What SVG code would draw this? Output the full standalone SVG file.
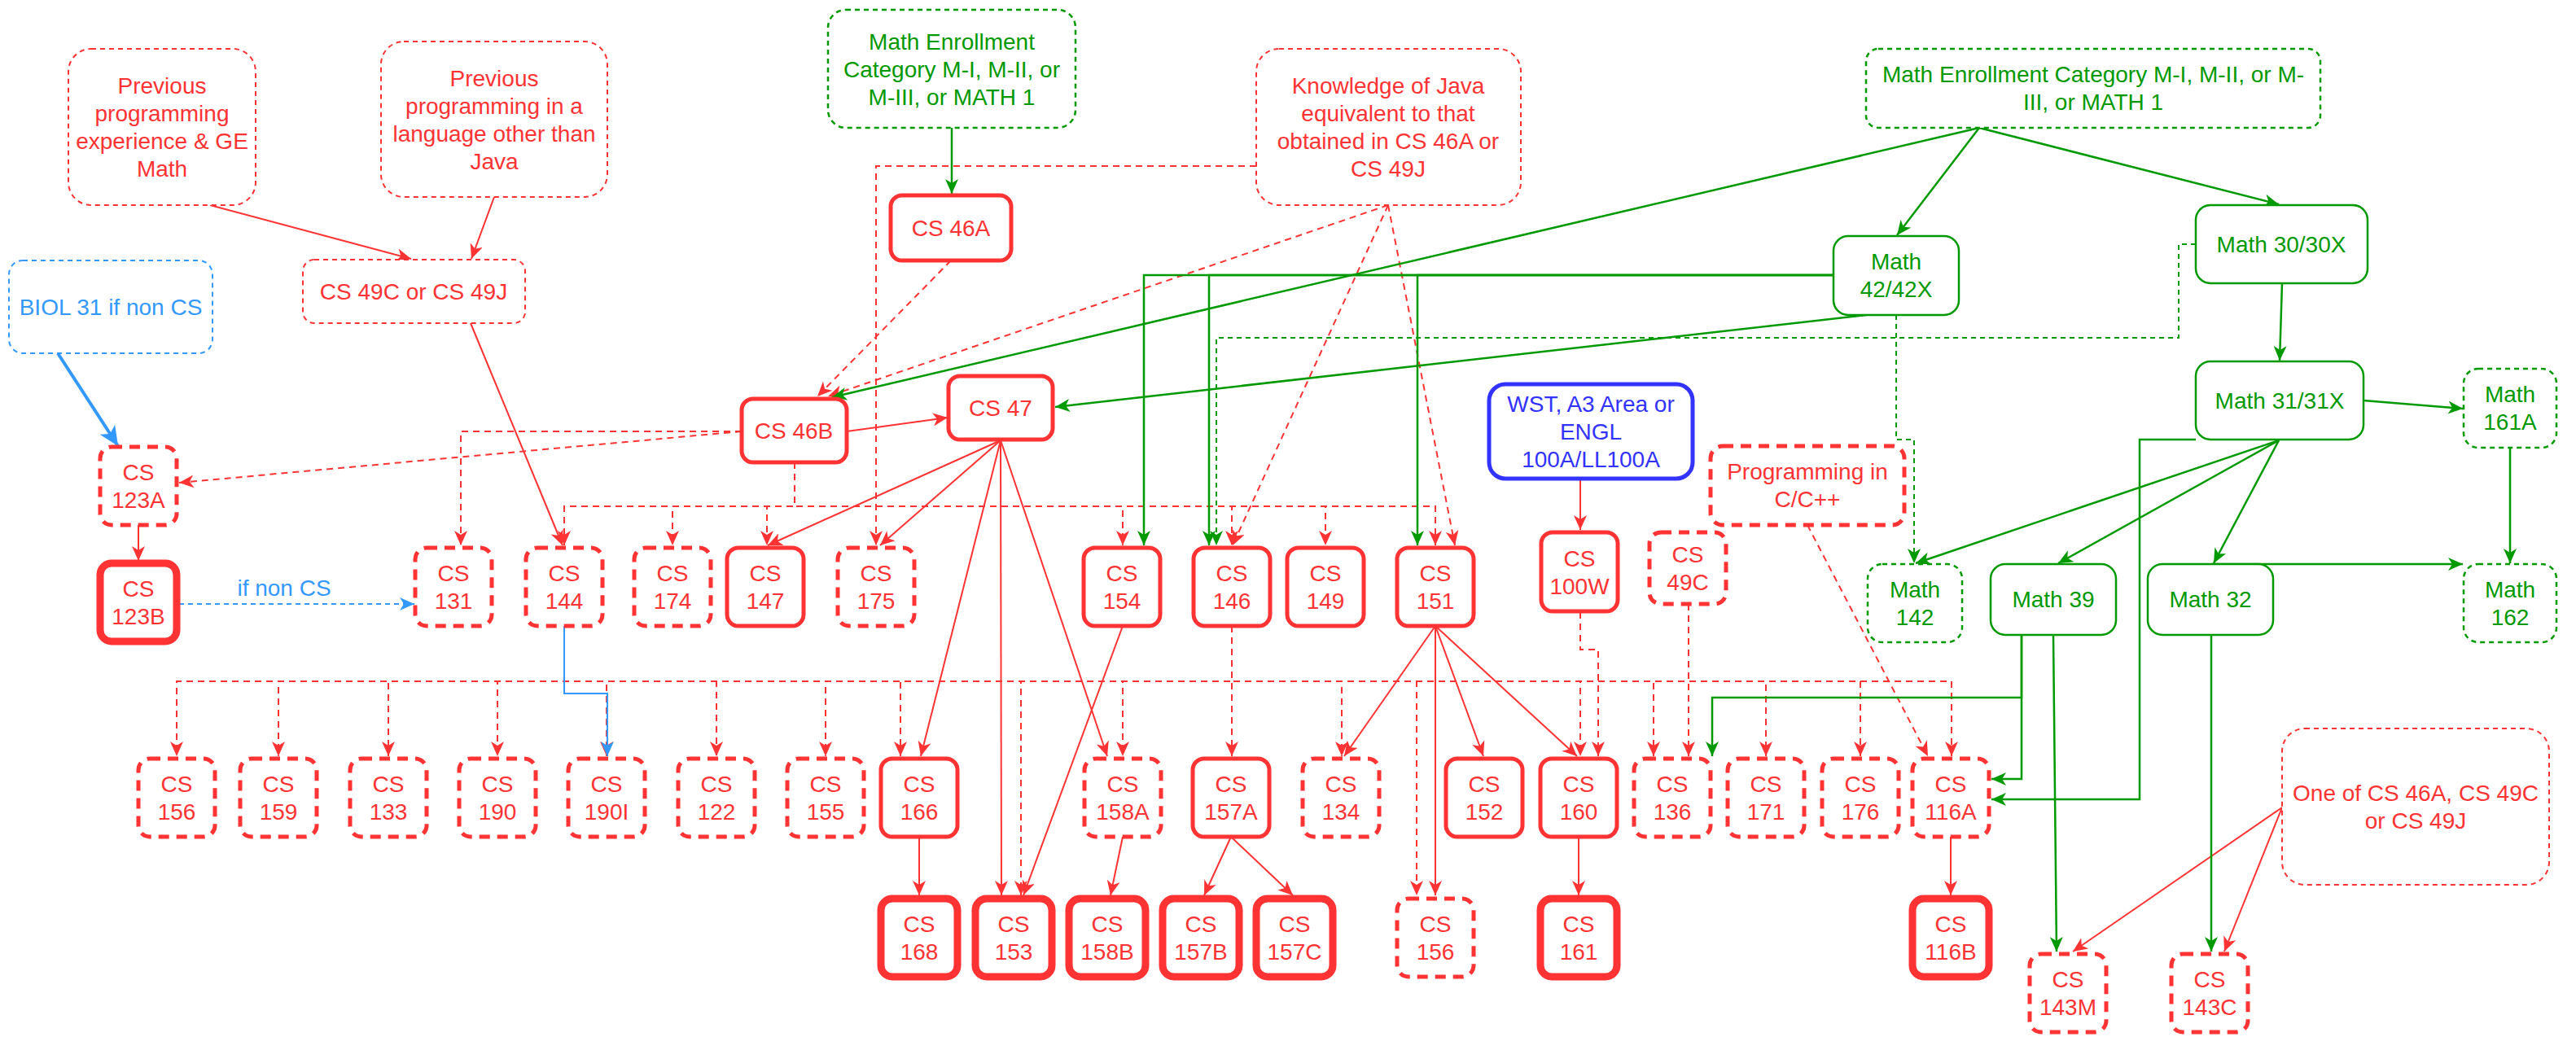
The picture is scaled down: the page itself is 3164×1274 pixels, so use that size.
<svg xmlns="http://www.w3.org/2000/svg" width="3164" height="1274" viewBox="0 0 3164 1274">
<defs>
<style>
.t{font-family:"Liberation Sans",Arial,sans-serif;font-size:28px;text-anchor:middle}
.tr{fill:#FF3333}.tg{fill:#009900}.tb{fill:#3333FF}.tl{fill:#3399FF}
.ns{fill:#fff;stroke:#FF3333;stroke-width:5}
.nd{fill:#fff;stroke:#FF3333;stroke-width:5;stroke-dasharray:13 9}
.nt{fill:#fff;stroke:#FF3333;stroke-width:9}
.nrt{fill:#fff;stroke:#FF3333;stroke-width:2;stroke-dasharray:6 5}
.ngt{fill:#fff;stroke:#009900;stroke-width:2.5;stroke-dasharray:6 5}
.ngs{fill:#fff;stroke:#009900;stroke-width:2.5}
.nbt{fill:#fff;stroke:#3399FF;stroke-width:2;stroke-dasharray:6 5}
.nbs{fill:#fff;stroke:#3333FF;stroke-width:5}
.e{fill:none;stroke-width:2}
.er{stroke:#FF3333;marker-end:url(#ar)}
.erd{stroke:#FF3333;stroke-dasharray:8 6;marker-end:url(#ar)}
.eg{stroke:#009900;stroke-width:2.5;marker-end:url(#ag)}
.egd{stroke:#009900;stroke-dasharray:6 5;marker-end:url(#ag)}
.eb{stroke:#3399FF;marker-end:url(#ab)}
.ebd{stroke:#3399FF;stroke-dasharray:6 5;marker-end:url(#ab)}
.ebt{stroke:#3399FF;stroke-width:4;marker-end:url(#abb)}
</style>
<marker id="ar" markerUnits="userSpaceOnUse" markerWidth="18" markerHeight="16" viewBox="0 0 18 16" refX="18" refY="8" orient="auto"><path d="M0,0 L18,8 L0,16 L5,8 Z" fill="#FF3333"/></marker>
<marker id="ag" markerUnits="userSpaceOnUse" markerWidth="18" markerHeight="16" viewBox="0 0 18 16" refX="18" refY="8" orient="auto"><path d="M0,0 L18,8 L0,16 L5,8 Z" fill="#009900"/></marker>
<marker id="ab" markerUnits="userSpaceOnUse" markerWidth="18" markerHeight="16" viewBox="0 0 18 16" refX="18" refY="8" orient="auto"><path d="M0,0 L18,8 L0,16 L5,8 Z" fill="#3399FF"/></marker>
<marker id="abb" markerUnits="userSpaceOnUse" markerWidth="24" markerHeight="22" viewBox="0 0 24 22" refX="24" refY="11" orient="auto"><path d="M0,0 L24,11 L0,22 L6,11 Z" fill="#3399FF"/></marker>
</defs>
<rect width="3164" height="1274" fill="#fff"/>
<g id="connectors">
<!-- red solid -->
<path class="e er" d="M258,252 L505,318"/>
<path class="e er" d="M607,242 L579,318"/>
<path class="e er" d="M578,397 L691,670"/>
<path class="e er" d="M170,645 L170,689"/>
<path class="e er" d="M1040,530 L1164,513"/>
<path class="e er" d="M1229,541 L943,670"/>
<path class="e er" d="M1229,541 L1081,670"/>
<path class="e er" d="M1229,541 L1131,929"/>
<path class="e er" d="M1229,541 L1230,1100"/>
<path class="e er" d="M1229,541 L1360,929"/>
<path class="e er" d="M1379,769 L1257,1100"/>
<path class="e er" d="M1129,1028 L1129,1100"/>
<path class="e er" d="M1379,1028 L1364,1100"/>
<path class="e er" d="M1512,1028 L1479,1100"/>
<path class="e er" d="M1512,1028 L1588,1100"/>
<path class="e er" d="M1763,769 L1651,929"/>
<path class="e er" d="M1763,769 L1763,1100"/>
<path class="e er" d="M1763,769 L1822,929"/>
<path class="e er" d="M1763,769 L1937,929"/>
<path class="e er" d="M1939,1028 L1939,1100"/>
<path class="e er" d="M2396,1028 L2396,1100"/>
<path class="e er" d="M1941,588 L1941,651"/>
<path class="e er" d="M2803,992 L2546,1169"/>
<path class="e er" d="M2803,992 L2732,1169"/>
<!-- red dashed -->
<path class="e erd" d="M1168,320 L1004,487"/>
<path class="e erd" d="M1705,252 L1017,487"/>
<path class="e erd" d="M1543,204 H1076 V670"/>
<path class="e erd" d="M1705,252 L1514,670"/>
<path class="e erd" d="M1705,252 L1787,670"/>
<path class="e erd" d="M911,530 L220,593"/>
<path class="e erd" d="M911,530 H566 V670"/>
<path class="e erd" d="M976,568 V622 H693 V670"/>
<path class="e erd" d="M976,568 V622 H826 V670"/>
<path class="e erd" d="M976,568 V622 H942 V670"/>
<path class="e erd" d="M976,568 V622 H1379 V670"/>
<path class="e erd" d="M976,568 V622 H1513 V670"/>
<path class="e erd" d="M976,568 V622 H1628 V670"/>
<path class="e erd" d="M976,568 V622 H1763 V670"/>
<path class="e erd" d="M1513,769 V837 H217 V929"/>
<path class="e erd" d="M1513,769 V837 H342 V929"/>
<path class="e erd" d="M1513,769 V837 H477 V929"/>
<path class="e erd" d="M1513,769 V837 H611 V929"/>
<path class="e erd" d="M1513,769 V837 H745 V929"/>
<path class="e erd" d="M1513,769 V837 H880 V929"/>
<path class="e erd" d="M1513,769 V837 H1014 V929"/>
<path class="e erd" d="M1513,769 V837 H1106 V929"/>
<path class="e erd" d="M1513,769 V837 H1254 V1100"/>
<path class="e erd" d="M1513,769 V837 H1379 V929"/>
<path class="e erd" d="M1513,769 V929"/>
<path class="e erd" d="M1513,769 V837 H1648 V929"/>
<path class="e erd" d="M1513,769 V837 H1740 V1100"/>
<path class="e erd" d="M1513,769 V837 H1941 V929"/>
<path class="e erd" d="M1513,769 V837 H2031 V929"/>
<path class="e erd" d="M1513,769 V837 H2169 V929"/>
<path class="e erd" d="M1513,769 V837 H2285 V929"/>
<path class="e erd" d="M1513,769 V837 H2397 V929"/>
<path class="e erd" d="M1941,752 V798 H1963 V929"/>
<path class="e erd" d="M2074,742 V929"/>
<path class="e erd" d="M2220,645 L2368,929"/>
<!-- green solid -->
<path class="e eg" d="M1169,157 V238"/>
<path class="e eg" d="M2431,157 L1022,488"/>
<path class="e eg" d="M2431,157 L2330,289"/>
<path class="e eg" d="M2431,157 L2799,251"/>
<path class="e eg" d="M2292,387 L1296,500"/>
<path class="e eg" d="M2252,338 H1405 V670"/>
<path class="e eg" d="M2252,338 H1485 V670"/>
<path class="e eg" d="M2252,338 H1741 V670"/>
<path class="e eg" d="M2803,348 L2800,443"/>
<path class="e eg" d="M2903,492 L3025,502"/>
<path class="e eg" d="M3083,550 V692"/>
<path class="e eg" d="M2799,541 L2353,692"/>
<path class="e eg" d="M2799,541 L2528,692"/>
<path class="e eg" d="M2799,541 L2719,692"/>
<path class="e eg" d="M2717,693 H3025"/>
<path class="e eg" d="M2697,540 H2628 V982 H2446"/>
<path class="e eg" d="M2483,780 V957 H2446"/>
<path class="e eg" d="M2483,780 V857 H2103 V929"/>
<path class="e eg" d="M2522,780 L2526,1169"/>
<path class="e eg" d="M2716,780 V1169"/>
<!-- green dashed -->
<path class="e egd" d="M2697,300 H2676 V415 H1494 V670"/>
<path class="e egd" d="M2329,387 V540 H2351 V692"/>
<!-- blue -->
<path class="e ebt" d="M71,434 L145,548"/>
<path class="e ebd" d="M220,742 H509"/>
<path class="e eb" d="M693,769 V852 H746 V929"/>
<text class="t tl" x="349" y="732">if non CS</text>
</g>
<g id="prev1"><rect class="nrt" x="84" y="60" width="230" height="192" rx="28"/><text class="t tr" x="199" y="115">Previous</text><text class="t tr" x="199" y="149">programming</text><text class="t tr" x="199" y="183">experience &amp; GE</text><text class="t tr" x="199" y="217">Math</text></g>
<g id="prev2"><rect class="nrt" x="468" y="51" width="278" height="191" rx="28"/><text class="t tr" x="607" y="106">Previous</text><text class="t tr" x="607" y="140">programming in a</text><text class="t tr" x="607" y="174">language other than</text><text class="t tr" x="607" y="208">Java</text></g>
<g id="biol31"><rect class="nbt" x="11" y="320" width="250" height="114" rx="17"/><text class="t tl" x="136" y="387">BIOL 31 if non CS</text></g>
<g id="cs49cj"><rect class="nrt" x="372" y="319" width="273" height="78" rx="14"/><text class="t tr" x="508" y="368">CS 49C or CS 49J</text></g>
<g id="enrollL"><rect class="ngt" x="1017" y="12" width="304" height="145" rx="22"/><text class="t tg" x="1169" y="61">Math Enrollment</text><text class="t tg" x="1169" y="95">Category M-I, M-II, or</text><text class="t tg" x="1169" y="129">M-III, or MATH 1</text></g>
<g id="knowledge"><rect class="nrt" x="1543" y="60" width="325" height="192" rx="28"/><text class="t tr" x="1705" y="115">Knowledge of Java</text><text class="t tr" x="1705" y="149">equivalent to that</text><text class="t tr" x="1705" y="183">obtained in CS 46A or</text><text class="t tr" x="1705" y="217">CS 49J</text></g>
<g id="enrollR"><rect class="ngt" x="2292" y="60" width="558" height="97" rx="15"/><text class="t tg" x="2571" y="101">Math Enrollment Category M-I, M-II, or M-</text><text class="t tg" x="2571" y="135">III, or MATH 1</text></g>
<g id="oneof"><rect class="nrt" x="2803" y="895" width="328" height="192" rx="28"/><text class="t tr" x="2967" y="984">One of CS 46A, CS 49C</text><text class="t tr" x="2967" y="1018">or CS 49J</text></g>
<g id="progc"><rect class="nd" x="2101" y="548" width="238" height="97" rx="15"/><text class="t tr" x="2220" y="589">Programming in</text><text class="t tr" x="2220" y="623">C/C++</text></g>
<g id="wst"><rect class="nbs" x="1829" y="472" width="250" height="116" rx="20"/><text class="t tb" x="1954" y="506">WST, A3 Area or</text><text class="t tb" x="1954" y="540">ENGL</text><text class="t tb" x="1954" y="574">100A/LL100A</text></g>
<g id="math42"><rect class="ngs" x="2252" y="290" width="154" height="97" rx="18"/><text class="t tg" x="2329" y="331">Math</text><text class="t tg" x="2329" y="365">42/42X</text></g>
<g id="math30"><rect class="ngs" x="2697" y="252" width="211" height="96" rx="18"/><text class="t tg" x="2802" y="310">Math 30/30X</text></g>
<g id="math31"><rect class="ngs" x="2697" y="444" width="206" height="96" rx="18"/><text class="t tg" x="2800" y="502">Math 31/31X</text></g>
<g id="math161a"><rect class="ngt" x="3026" y="453" width="114" height="97" rx="18"/><text class="t tg" x="3083" y="494">Math</text><text class="t tg" x="3083" y="528">161A</text></g>
<g id="math142"><rect class="ngt" x="2294" y="693" width="116" height="96" rx="18"/><text class="t tg" x="2352" y="734">Math</text><text class="t tg" x="2352" y="768">142</text></g>
<g id="math39"><rect class="ngs" x="2445" y="693" width="154" height="87" rx="18"/><text class="t tg" x="2522" y="746">Math 39</text></g>
<g id="math32"><rect class="ngs" x="2638" y="693" width="154" height="87" rx="18"/><text class="t tg" x="2715" y="746">Math 32</text></g>
<g id="math162"><rect class="ngt" x="3026" y="693" width="114" height="96" rx="18"/><text class="t tg" x="3083" y="734">Math</text><text class="t tg" x="3083" y="768">162</text></g>
<g id="cs46a"><rect class="ns" x="1094" y="240" width="148" height="80" rx="14"/><text class="t tr" x="1168" y="290">CS 46A</text></g>
<g id="cs46b"><rect class="ns" x="911" y="490" width="129" height="78" rx="14"/><text class="t tr" x="975" y="539">CS 46B</text></g>
<g id="cs47"><rect class="ns" x="1165" y="462" width="128" height="78" rx="14"/><text class="t tr" x="1229" y="511">CS 47</text></g>
<g id="cs123a"><rect class="nd" x="123" y="549" width="94" height="96" rx="14"/><text class="t tr" x="170" y="590">CS</text><text class="t tr" x="170" y="624">123A</text></g>
<g id="cs123b"><rect class="nt" x="123" y="692" width="94" height="96" rx="14"/><text class="t tr" x="170" y="733">CS</text><text class="t tr" x="170" y="767">123B</text></g>
<g id="cs131"><rect class="nd" x="510" y="673" width="94" height="96" rx="14"/><text class="t tr" x="557" y="714">CS</text><text class="t tr" x="557" y="748">131</text></g>
<g id="cs144"><rect class="nd" x="646" y="673" width="94" height="96" rx="14"/><text class="t tr" x="693" y="714">CS</text><text class="t tr" x="693" y="748">144</text></g>
<g id="cs174"><rect class="nd" x="779" y="673" width="94" height="96" rx="14"/><text class="t tr" x="826" y="714">CS</text><text class="t tr" x="826" y="748">174</text></g>
<g id="cs147"><rect class="ns" x="893" y="673" width="94" height="96" rx="14"/><text class="t tr" x="940" y="714">CS</text><text class="t tr" x="940" y="748">147</text></g>
<g id="cs175"><rect class="nd" x="1029" y="673" width="94" height="96" rx="14"/><text class="t tr" x="1076" y="714">CS</text><text class="t tr" x="1076" y="748">175</text></g>
<g id="cs154"><rect class="ns" x="1331" y="673" width="94" height="96" rx="14"/><text class="t tr" x="1378" y="714">CS</text><text class="t tr" x="1378" y="748">154</text></g>
<g id="cs146"><rect class="ns" x="1466" y="673" width="94" height="96" rx="14"/><text class="t tr" x="1513" y="714">CS</text><text class="t tr" x="1513" y="748">146</text></g>
<g id="cs149"><rect class="ns" x="1581" y="673" width="94" height="96" rx="14"/><text class="t tr" x="1628" y="714">CS</text><text class="t tr" x="1628" y="748">149</text></g>
<g id="cs151"><rect class="ns" x="1716" y="673" width="94" height="96" rx="14"/><text class="t tr" x="1763" y="714">CS</text><text class="t tr" x="1763" y="748">151</text></g>
<g id="cs100w"><rect class="ns" x="1893" y="654" width="94" height="97" rx="14"/><text class="t tr" x="1940" y="696">CS</text><text class="t tr" x="1940" y="730">100W</text></g>
<g id="cs49c"><rect class="nd" x="2026" y="654" width="94" height="88" rx="14"/><text class="t tr" x="2073" y="691">CS</text><text class="t tr" x="2073" y="725">49C</text></g>
<g id="cs156"><rect class="nd" x="170" y="932" width="94" height="96" rx="14"/><text class="t tr" x="217" y="973">CS</text><text class="t tr" x="217" y="1007">156</text></g>
<g id="cs159"><rect class="nd" x="295" y="932" width="94" height="96" rx="14"/><text class="t tr" x="342" y="973">CS</text><text class="t tr" x="342" y="1007">159</text></g>
<g id="cs133"><rect class="nd" x="430" y="932" width="94" height="96" rx="14"/><text class="t tr" x="477" y="973">CS</text><text class="t tr" x="477" y="1007">133</text></g>
<g id="cs190"><rect class="nd" x="564" y="932" width="94" height="96" rx="14"/><text class="t tr" x="611" y="973">CS</text><text class="t tr" x="611" y="1007">190</text></g>
<g id="cs190i"><rect class="nd" x="698" y="932" width="94" height="96" rx="14"/><text class="t tr" x="745" y="973">CS</text><text class="t tr" x="745" y="1007">190I</text></g>
<g id="cs122"><rect class="nd" x="833" y="932" width="94" height="96" rx="14"/><text class="t tr" x="880" y="973">CS</text><text class="t tr" x="880" y="1007">122</text></g>
<g id="cs155"><rect class="nd" x="967" y="932" width="94" height="96" rx="14"/><text class="t tr" x="1014" y="973">CS</text><text class="t tr" x="1014" y="1007">155</text></g>
<g id="cs166"><rect class="ns" x="1082" y="932" width="94" height="96" rx="14"/><text class="t tr" x="1129" y="973">CS</text><text class="t tr" x="1129" y="1007">166</text></g>
<g id="cs158a"><rect class="nd" x="1332" y="932" width="94" height="96" rx="14"/><text class="t tr" x="1379" y="973">CS</text><text class="t tr" x="1379" y="1007">158A</text></g>
<g id="cs157a"><rect class="ns" x="1465" y="932" width="94" height="96" rx="14"/><text class="t tr" x="1512" y="973">CS</text><text class="t tr" x="1512" y="1007">157A</text></g>
<g id="cs134"><rect class="nd" x="1600" y="932" width="94" height="96" rx="14"/><text class="t tr" x="1647" y="973">CS</text><text class="t tr" x="1647" y="1007">134</text></g>
<g id="cs152"><rect class="ns" x="1776" y="932" width="94" height="96" rx="14"/><text class="t tr" x="1823" y="973">CS</text><text class="t tr" x="1823" y="1007">152</text></g>
<g id="cs160"><rect class="ns" x="1892" y="932" width="94" height="96" rx="14"/><text class="t tr" x="1939" y="973">CS</text><text class="t tr" x="1939" y="1007">160</text></g>
<g id="cs136"><rect class="nd" x="2007" y="932" width="94" height="96" rx="14"/><text class="t tr" x="2054" y="973">CS</text><text class="t tr" x="2054" y="1007">136</text></g>
<g id="cs171"><rect class="nd" x="2122" y="932" width="94" height="96" rx="14"/><text class="t tr" x="2169" y="973">CS</text><text class="t tr" x="2169" y="1007">171</text></g>
<g id="cs176"><rect class="nd" x="2238" y="932" width="94" height="96" rx="14"/><text class="t tr" x="2285" y="973">CS</text><text class="t tr" x="2285" y="1007">176</text></g>
<g id="cs116a"><rect class="nd" x="2349" y="932" width="94" height="96" rx="14"/><text class="t tr" x="2396" y="973">CS</text><text class="t tr" x="2396" y="1007">116A</text></g>
<g id="cs168"><rect class="nt" x="1082" y="1104" width="94" height="96" rx="14"/><text class="t tr" x="1129" y="1145">CS</text><text class="t tr" x="1129" y="1179">168</text></g>
<g id="cs153"><rect class="nt" x="1198" y="1104" width="94" height="96" rx="14"/><text class="t tr" x="1245" y="1145">CS</text><text class="t tr" x="1245" y="1179">153</text></g>
<g id="cs158b"><rect class="nt" x="1313" y="1104" width="94" height="96" rx="14"/><text class="t tr" x="1360" y="1145">CS</text><text class="t tr" x="1360" y="1179">158B</text></g>
<g id="cs157b"><rect class="nt" x="1428" y="1104" width="94" height="96" rx="14"/><text class="t tr" x="1475" y="1145">CS</text><text class="t tr" x="1475" y="1179">157B</text></g>
<g id="cs157c"><rect class="nt" x="1543" y="1104" width="94" height="96" rx="14"/><text class="t tr" x="1590" y="1145">CS</text><text class="t tr" x="1590" y="1179">157C</text></g>
<g id="cs156b"><rect class="nd" x="1716" y="1104" width="94" height="96" rx="14"/><text class="t tr" x="1763" y="1145">CS</text><text class="t tr" x="1763" y="1179">156</text></g>
<g id="cs161"><rect class="nt" x="1892" y="1104" width="94" height="96" rx="14"/><text class="t tr" x="1939" y="1145">CS</text><text class="t tr" x="1939" y="1179">161</text></g>
<g id="cs116b"><rect class="nt" x="2349" y="1104" width="94" height="96" rx="14"/><text class="t tr" x="2396" y="1145">CS</text><text class="t tr" x="2396" y="1179">116B</text></g>
<g id="cs143m"><rect class="nd" x="2493" y="1172" width="94" height="96" rx="14"/><text class="t tr" x="2540" y="1213">CS</text><text class="t tr" x="2540" y="1247">143M</text></g>
<g id="cs143c"><rect class="nd" x="2667" y="1172" width="94" height="96" rx="14"/><text class="t tr" x="2714" y="1213">CS</text><text class="t tr" x="2714" y="1247">143C</text></g>
</svg>
